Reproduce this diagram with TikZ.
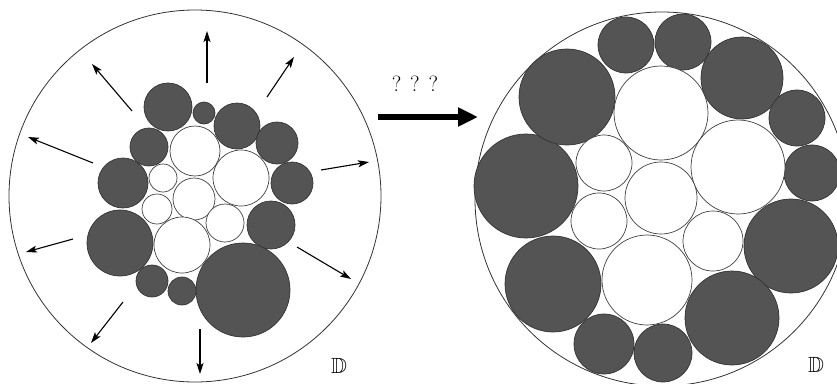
\documentclass[tikz,border=0pt]{standalone}
\usepackage{amssymb}
\usetikzlibrary{arrows.meta}
\definecolor{dkfill}{gray}{0.33}
\definecolor{dkline}{gray}{0.2}
\tikzset{
  disc/.style={circle, draw=black!80, line width=0.7pt, inner sep=0pt, outer sep=0pt},
  dk/.style={disc, fill=dkfill, draw=dkline},
  wt/.style={disc, fill=white, draw=black!75},
  outer/.style={circle, draw=black!80, line width=0.8pt, inner sep=0pt, outer sep=0pt},
  growarrow/.style={line width=1.1pt, -{Stealth[length=11pt,width=7pt,inset=2.5pt]}},
  bigarrow/.style={line width=6pt, -{Triangle[length=20pt,width=18pt]}},
  lbl/.style={inner sep=0pt, font=\fontsize{22}{26}\selectfont}
}
\begin{document}
\begin{tikzpicture}[x=1pt,y=-1pt]
\useasboundingbox (0,0) rectangle (837,383);
\clip (0,0) rectangle (837,383);
% ---------- left panel ----------
\node[outer, minimum size=372pt] (DL) at (195,196) {};
\foreach \x/\y/\d [count=\i] in {168/107/48, 204/113/22, 237/126/46, 277/143/42, 292/183/42, 271/225/48, 243/290/94, 182/291/28, 152/281/32, 120/243/66, 123/183/50, 149/147/38}
  \node[dk, minimum size=\d pt] (Ld\i) at (\x,\y) {};
\foreach \x/\y/\d [count=\i] in {195/151/50, 241/178/56, 163/178/28, 194/199/42, 157/209/30, 225/223/38, 182/245/56}
  \node[wt, minimum size=\d pt] (Lw\i) at (\x,\y) {};
% growth arrows
\coordinate (s1) at (207,83);  \coordinate (e1) at (207,31);
\coordinate (s2) at (267,97);  \coordinate (e2) at (294,57);
\coordinate (s3) at (132,111); \coordinate (e3) at (92,64);
\coordinate (s4) at (93,163);  \coordinate (e4) at (28,137);
\coordinate (s5) at (321,170); \coordinate (e5) at (369,162);
\coordinate (s6) at (73,239);  \coordinate (e6) at (26,252);
\coordinate (s7) at (297,247); \coordinate (e7) at (351,279);
\coordinate (s8) at (123,302); \coordinate (e8) at (91,343);
\coordinate (s9) at (200,329); \coordinate (e9) at (200,374);
\foreach \i in {1,...,9} \draw[growarrow] (s\i) -- (e\i);
\node[lbl] (LD) at (339,366) {$\mathbb{D}$};
% ---------- middle arrow ----------
\node[lbl] (Q) at (415,84) {? ? ?};
\coordinate (ms) at (378,117);
\coordinate (me) at (478,117);
\draw[bigarrow] (ms) -- (me);
% ---------- right panel ----------
\node[outer, minimum size=374pt] (DR) at (662,199) {};
\foreach \x/\y/\d [count=\i] in {626/45/56, 683/42/56, 742/78/82, 797/118/56, 812/173/56, 791/246/94, 732/318/94, 663/353/58, 604/344/60, 553/284/96, 526/186/104, 567/97/96}
  \node[dk, minimum size=\d pt] (Rd\i) at (\x,\y) {};
\foreach \x/\y/\d [count=\i] in {661/113/94, 738/167/94, 604/163/56, 661/198/72, 599/221/56, 713/241/60, 647/280/90}
  \node[wt, minimum size=\d pt] (Rw\i) at (\x,\y) {};
\node[lbl] (RD) at (816,365) {$\mathbb{D}$};
\end{tikzpicture}
\end{document}
